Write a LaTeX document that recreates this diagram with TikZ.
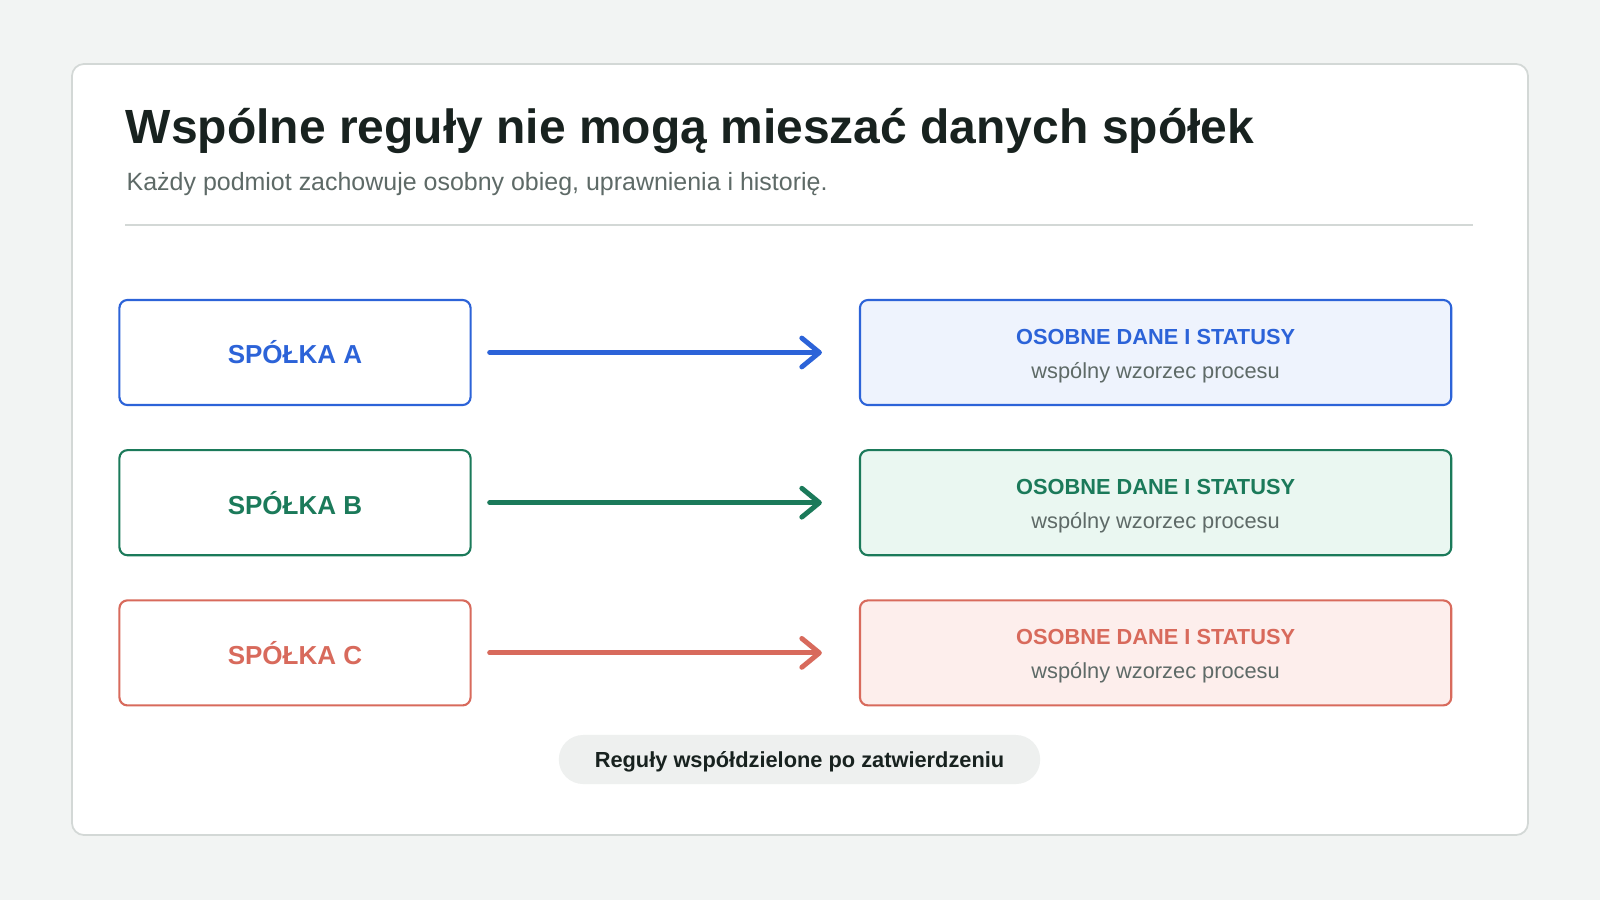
\documentclass[tikz,border=0pt]{standalone}
\usepackage{fontspec}
\setmainfont{Liberation Sans}
\usetikzlibrary{arrows.meta,positioning}
\definecolor{tlo}{HTML}{F2F4F3}
\definecolor{ramka}{HTML}{D3D8D6}
\definecolor{tytul}{HTML}{18221F}
\definecolor{szary}{HTML}{5E6A67}
\definecolor{niebieski}{HTML}{2C63D8}
\definecolor{zielony}{HTML}{1B7A5A}
\definecolor{czerwony}{HTML}{D86A5C}
\definecolor{niebieskitlo}{HTML}{EEF3FD}
\definecolor{zielonytlo}{HTML}{EAF7F1}
\definecolor{czerwonytlo}{HTML}{FDEEEC}
\definecolor{pigulka}{HTML}{EEF0EF}
\begin{document}
\begin{tikzpicture}[x=0.01cm,y=-0.01cm,
        spolka/.style={draw=#1,line width=0.6pt,rounded corners=2.3pt,
          minimum width=3.51cm,minimum height=1.05cm,text=#1,
          font=\bfseries\fontsize{7.4}{9}\selectfont},
        dane/.style 2 args={draw=#1,fill=#2,line width=0.6pt,rounded corners=2.3pt,
          minimum width=5.91cm,minimum height=1.05cm,align=center,
          font=\fontsize{6.2}{9.6}\selectfont},
        strzalka/.style={draw=#1,line width=1.4pt,line cap=round,
          -{Straight Barb[length=5pt,width=8.2pt,round]}}]
        \fill[tlo] (0,0) rectangle (1600,900);
        \draw[fill=white,draw=ramka,line width=0.5pt,rounded corners=3.4pt] (72,64) rectangle (1528,835);
        \node[anchor=base west,inner sep=0pt,text=tytul,font=\bfseries\fontsize{13.65}{16}\selectfont] (tytul) at (125,143)
          {Wspólne reguły nie mogą mieszać danych spółek};
        \node[anchor=base west,inner sep=0pt,text=szary,font=\fontsize{7.1}{8}\selectfont] (podtytul) at (126,190)
          {Każdy podmiot zachowuje osobny obieg, uprawnienia i historię.};
        \draw[ramka,line width=0.55pt] (125,225) -- (1473,225);
        % spolki
        \node[spolka=niebieski] (spA) at (295,352.5) {SPÓŁKA A};
        \node[spolka=zielony,below=0.43cm of spA] (spB) {SPÓŁKA B};
        \node[spolka=czerwony,below=0.43cm of spB] (spC) {SPÓŁKA C};
        % dane
        \node[dane={niebieski}{niebieskitlo},right=3.87cm of spA] (daneA)
          {\rule{0pt}{6.2pt}\textcolor{niebieski}{\bfseries OSOBNE DANE I STATUSY}\\\textcolor{szary}{wspólny wzorzec procesu}};
        \node[dane={zielony}{zielonytlo},right=3.87cm of spB] (daneB)
          {\rule{0pt}{6.2pt}\textcolor{zielony}{\bfseries OSOBNE DANE I STATUSY}\\\textcolor{szary}{wspólny wzorzec procesu}};
        \node[dane={czerwony}{czerwonytlo},right=3.87cm of spC] (daneC)
          {\rule{0pt}{6.2pt}\textcolor{czerwony}{\bfseries OSOBNE DANE I STATUSY}\\\textcolor{szary}{wspólny wzorzec procesu}};
        \draw[strzalka=niebieski] ([xshift=0.18cm]spA.east) -- ([xshift=-0.37cm]daneA.west);
        \draw[strzalka=zielony] ([xshift=0.18cm]spB.east) -- ([xshift=-0.37cm]daneB.west);
        \draw[strzalka=czerwony] ([xshift=0.18cm]spC.east) -- ([xshift=-0.37cm]daneC.west);
        \node[fill=pigulka,rounded corners=6.9pt,minimum width=4.81cm,minimum height=0.49cm,
          text height=0.45em,text depth=0pt,
          text=tytul,font=\bfseries\fontsize{6.2}{8}\selectfont] (regula) at (799.5,759.5)
          {Reguły współdzielone po zatwierdzeniu};
      \end{tikzpicture}
\end{document}
